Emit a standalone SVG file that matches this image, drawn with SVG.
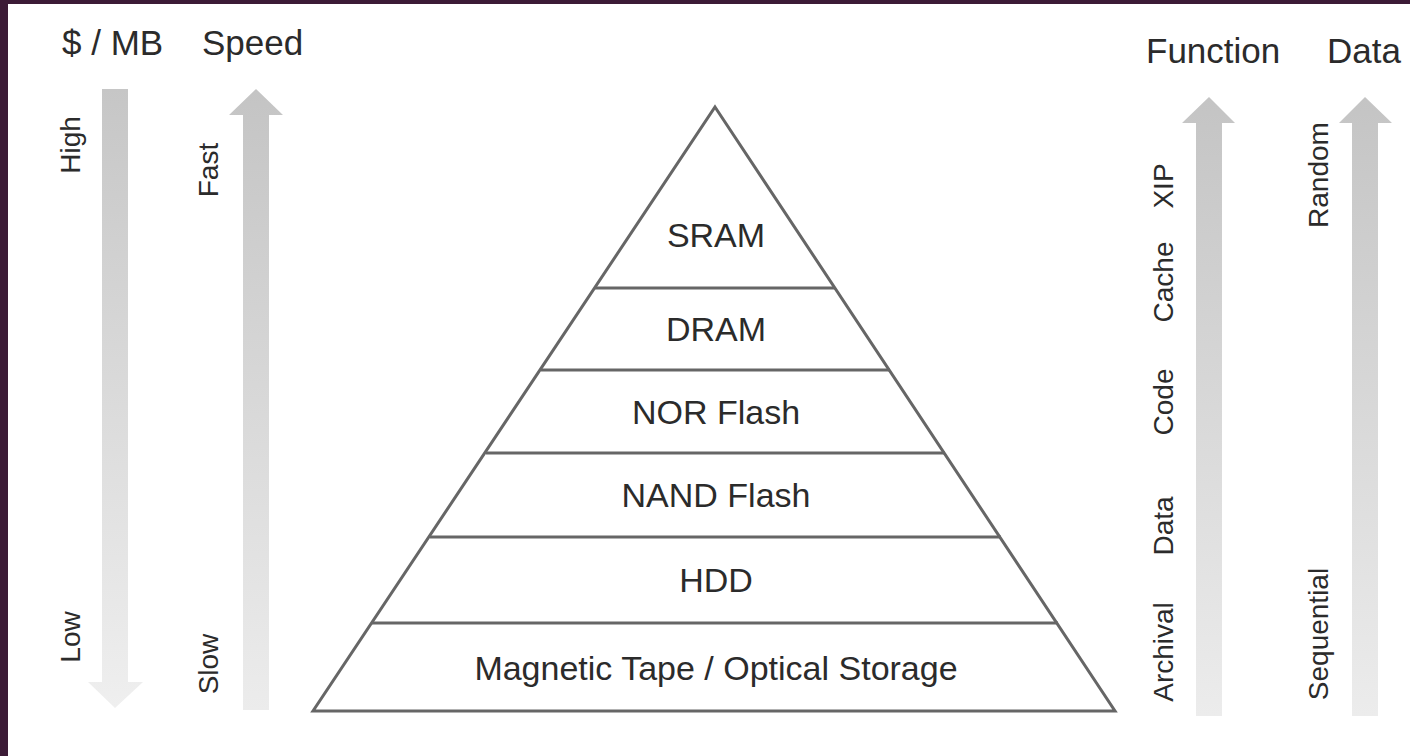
<svg xmlns="http://www.w3.org/2000/svg" width="1410" height="756" viewBox="0 0 1410 756">
  <style>
    .hdr { font-family: "Liberation Sans", Arial, sans-serif; font-size: 35px; fill: #2b2b2b; }
    .lbl { font-family: "Liberation Sans", Arial, sans-serif; font-size: 28px; fill: #2b2b2b; }
    .tier { font-family: "Liberation Sans", Arial, sans-serif; font-size: 34px; fill: #2b2b2b; text-anchor: middle; }
    .pyr { fill: #ffffff; stroke: #666666; stroke-width: 3; stroke-linejoin: miter; }
    .sep { stroke: #666666; stroke-width: 3; }
  </style>
  <defs>
    <linearGradient id="gDown" x1="0" y1="0" x2="0" y2="1">
      <stop offset="0" stop-color="#c6c6c6"/>
      <stop offset="1" stop-color="#efefef"/>
    </linearGradient>
    <linearGradient id="gUp" x1="0" y1="0" x2="0" y2="1">
      <stop offset="0" stop-color="#c4c4c4"/>
      <stop offset="1" stop-color="#ececec"/>
    </linearGradient>
  </defs>
  <rect x="0" y="0" width="1410" height="756" fill="#ffffff"/>
  <rect x="0" y="0" width="8" height="756" fill="#3c1b36"/>
  <rect x="0" y="0" width="1410" height="4" fill="#3c1b36"/>

  <g id="headers">
    <text class="hdr" x="62" y="55">$ / MB</text>
    <text class="hdr" x="202" y="55">Speed</text>
    <text class="hdr" x="1146" y="63">Function</text>
    <text class="hdr" x="1327" y="63">Data</text>
  </g>

  <g id="arrows">
    <polygon id="arrow-cost" fill="url(#gDown)" points="102,89 128,89 128,682 143,682 115,708 88,682 102,682"/>
    <polygon id="arrow-speed" fill="url(#gUp)" points="256,89 283,115 269,115 269,710 243,710 243,115 229,115"/>
    <polygon id="arrow-function" fill="url(#gUp)" points="1209,97 1235,123 1222,123 1222,716 1196,716 1196,123 1182,123"/>
    <polygon id="arrow-data" fill="url(#gUp)" points="1365,97 1392,123 1378,123 1378,716 1352,716 1352,123 1339,123"/>
  </g>

  <g id="axis-labels">
    <text class="lbl" text-anchor="middle" transform="translate(80,145) rotate(-90)">High</text>
    <text class="lbl" text-anchor="middle" transform="translate(80,637) rotate(-90)">Low</text>
    <text class="lbl" text-anchor="middle" transform="translate(218,170) rotate(-90)">Fast</text>
    <text class="lbl" text-anchor="middle" transform="translate(218,664) rotate(-90)">Slow</text>
    <text class="lbl" text-anchor="middle" transform="translate(1173,186) rotate(-90)">XIP</text>
    <text class="lbl" text-anchor="middle" transform="translate(1173,282) rotate(-90)">Cache</text>
    <text class="lbl" text-anchor="middle" transform="translate(1173,402) rotate(-90)">Code</text>
    <text class="lbl" text-anchor="middle" transform="translate(1173,526) rotate(-90)">Data</text>
    <text class="lbl" text-anchor="middle" transform="translate(1173,652) rotate(-90)">Archival</text>
    <text class="lbl" text-anchor="middle" transform="translate(1328,175) rotate(-90)">Random</text>
    <text class="lbl" text-anchor="middle" transform="translate(1328,634) rotate(-90)">Sequential</text>
  </g>

  <g id="pyramid">
    <polygon class="pyr" points="715,107 1115,711 313,711"/>
  </g>
  <g id="separators">
    <line class="sep" x1="595" y1="288" x2="835" y2="288"/>
    <line class="sep" x1="541" y1="370" x2="890" y2="370"/>
    <line class="sep" x1="486" y1="453" x2="945" y2="453"/>
    <line class="sep" x1="430" y1="537" x2="1001" y2="537"/>
    <line class="sep" x1="372" y1="623" x2="1058" y2="623"/>
  </g>
  <g id="tier-sram"><text class="tier" x="716" y="247">SRAM</text></g>
  <g id="tier-dram"><text class="tier" x="716" y="341">DRAM</text></g>
  <g id="tier-nor"><text class="tier" x="716" y="424">NOR Flash</text></g>
  <g id="tier-nand"><text class="tier" x="716" y="507">NAND Flash</text></g>
  <g id="tier-hdd"><text class="tier" x="716" y="592">HDD</text></g>
  <g id="tier-tape"><text class="tier" x="716" y="680">Magnetic Tape / Optical Storage</text></g>
</svg>
